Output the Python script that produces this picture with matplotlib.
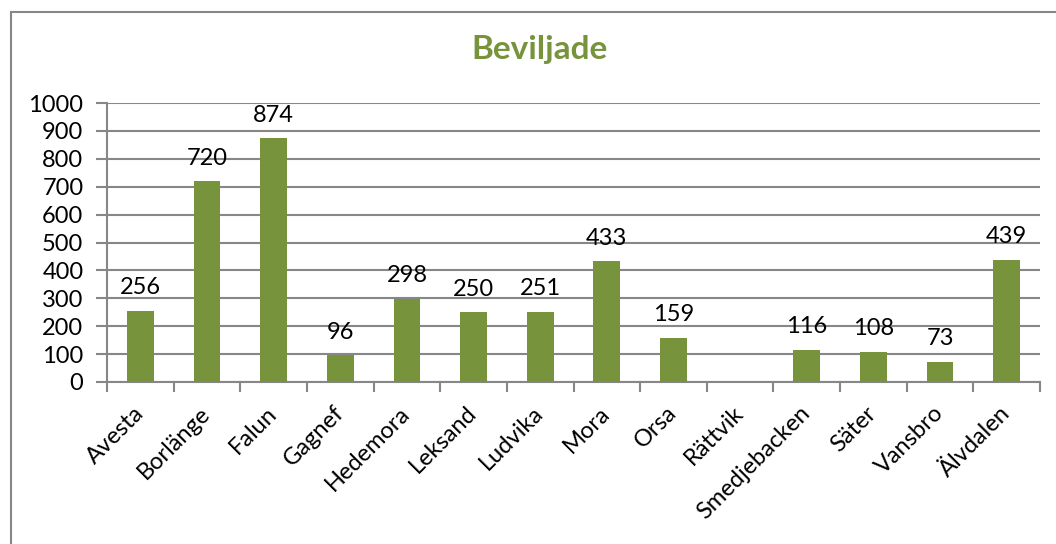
import numpy as np
import matplotlib
matplotlib.use("Agg")
import matplotlib.pyplot as plt
from matplotlib.patches import Rectangle

categories = ["Avesta", "Borlänge", "Falun", "Gagnef", "Hedemora", "Leksand", "Ludvika",
              "Mora", "Orsa", "Rättvik", "Smedjebacken", "Säter", "Vansbro", "Älvdalen"]
values = [256, 720, 874, 96, 298, 250, 251, 433, 159, np.nan, 116, 108, 73, 439]
yticks = list(range(0, 1001, 100))
title = "Beviljade"

plt.rcParams['font.family'] = ['Lato', 'DejaVu Sans']
GREEN = "#77933C"
GRAY = "#878787"

fig = plt.figure(figsize=(10.56, 5.44), dpi=100)
ax = fig.add_axes([107/1056, 1 - 382/544, (1040 - 107)/1056, (382 - 103)/544])

x = np.arange(len(categories))
vals = np.array(values, dtype=float)
ax.bar(x, np.nan_to_num(vals), width=0.4, color=GREEN, zorder=3)
for xi, v in zip(x, vals):
    if not np.isnan(v):
        ax.annotate(f"{int(v)}", (xi, v), xytext=(0, 9), textcoords="offset points",
                    ha="center", va="bottom", fontsize=17, color="black")

ax.set_xlim(-0.5, len(categories) - 0.5)
ax.set_ylim(0, 1000)
ax.set_yticks(yticks)
ax.set_yticklabels([str(t) for t in yticks], fontsize=17)
ax.yaxis.grid(True, color=GRAY, linewidth=1.5, zorder=0)
ax.set_axisbelow(True)

ax.set_xticks(x)
ax.set_xticklabels(categories, fontsize=17, rotation=45, ha="right", va="center",
                   rotation_mode="anchor")
ax.set_xticks(np.arange(-0.5, len(categories), 1.0), minor=True)
ax.tick_params(axis="x", which="major", length=0, pad=20)
ax.tick_params(axis="x", which="minor", length=7, width=1.5, color=GRAY, direction="out")
ax.tick_params(axis="y", length=8, width=1.5, color=GRAY, direction="out", pad=9)

for s in ["top", "right"]:
    ax.spines[s].set_visible(False)
for s in ["left", "bottom"]:
    ax.spines[s].set_color(GRAY)
    ax.spines[s].set_linewidth(1.5)

fig.text(540/1056, 1 - 50/544, title, ha="center", va="center", fontsize=24,
         fontweight="bold", color=GREEN)

fig.patches.append(Rectangle((11/1056, -0.1), 1.2, 1 - 12/544 + 0.1,
                             transform=fig.transFigure, fill=False,
                             edgecolor=GRAY, linewidth=1.5))

fig.savefig("out.png", dpi=100)
